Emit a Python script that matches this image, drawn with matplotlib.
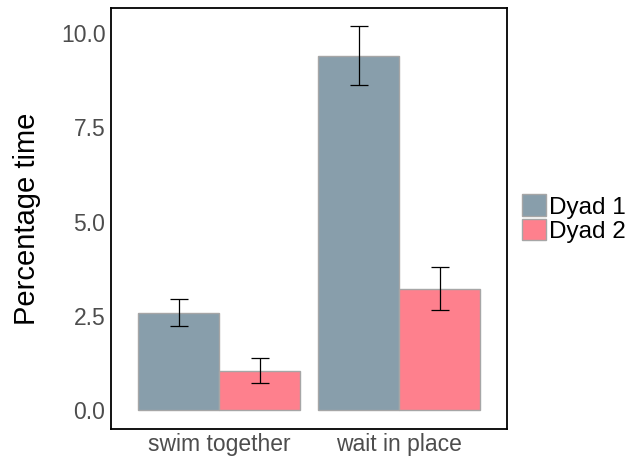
import numpy as np
import matplotlib.pyplot as plt
from matplotlib.patches import Patch

plt.rcParams["font.family"] = ["Liberation Sans", "DejaVu Sans"]

# data
behaviours = ["swim together", "wait in place"]
groups = ["Dyad 1", "Dyad 2"]
dyad1_mean = [2.58, 9.40]
dyad1_err = [0.36, 0.77]
dyad2_mean = [1.05, 3.22]
dyad2_err = [0.33, 0.57]
y_ticks = [0.0, 2.5, 5.0, 7.5, 10.0]

colors = ["#889eab", "#fe808d"]
edge = "#a6a6a6"

W, H = 637, 457
fig = plt.figure(figsize=(W / 100, H / 100), dpi=100)
ax = fig.add_axes([111 / W, (H - 429) / H, (507 - 111) / W, (429 - 8) / H])

x = np.arange(1, len(behaviours) + 1)
bw = 0.45
for i, (means, errs) in enumerate([(dyad1_mean, dyad1_err), (dyad2_mean, dyad2_err)]):
    pos = x + (i - 0.5) * bw
    ax.bar(pos, means, width=bw, color=colors[i], edgecolor=edge, linewidth=1.0, zorder=2)
    ax.errorbar(pos, means, yerr=errs, fmt="none", ecolor="black", elinewidth=0.9,
                capsize=6.5, capthick=0.9, zorder=3)

ax.set_xlim(0.4, 2.6)
ax.set_ylim(-0.5, 10.66)
ax.set_xticks(x)
ax.set_xticklabels(behaviours)
ax.set_yticks(y_ticks)
ax.set_yticklabels([f"{v:.1f}" for v in y_ticks])
ax.tick_params(length=0, labelsize=16.5, labelcolor="#4d4d4d", pad=4)
ax.tick_params(axis="x", pad=3)
ax.set_ylabel("Percentage time", fontsize=21, labelpad=14)
for s in ax.spines.values():
    s.set_linewidth(1.3)
    s.set_color("black")

handles = [Patch(facecolor=c, edgecolor=edge, linewidth=1.0) for c in colors]
ax.legend(handles, groups, loc="center left", bbox_to_anchor=(1.038, 0.5), frameon=False,
          fontsize=17.5, handlelength=1.0, handleheight=1.0, labelspacing=0.0,
          handletextpad=0.1, borderaxespad=0, borderpad=0)

fig.savefig("out.png", dpi=100)
